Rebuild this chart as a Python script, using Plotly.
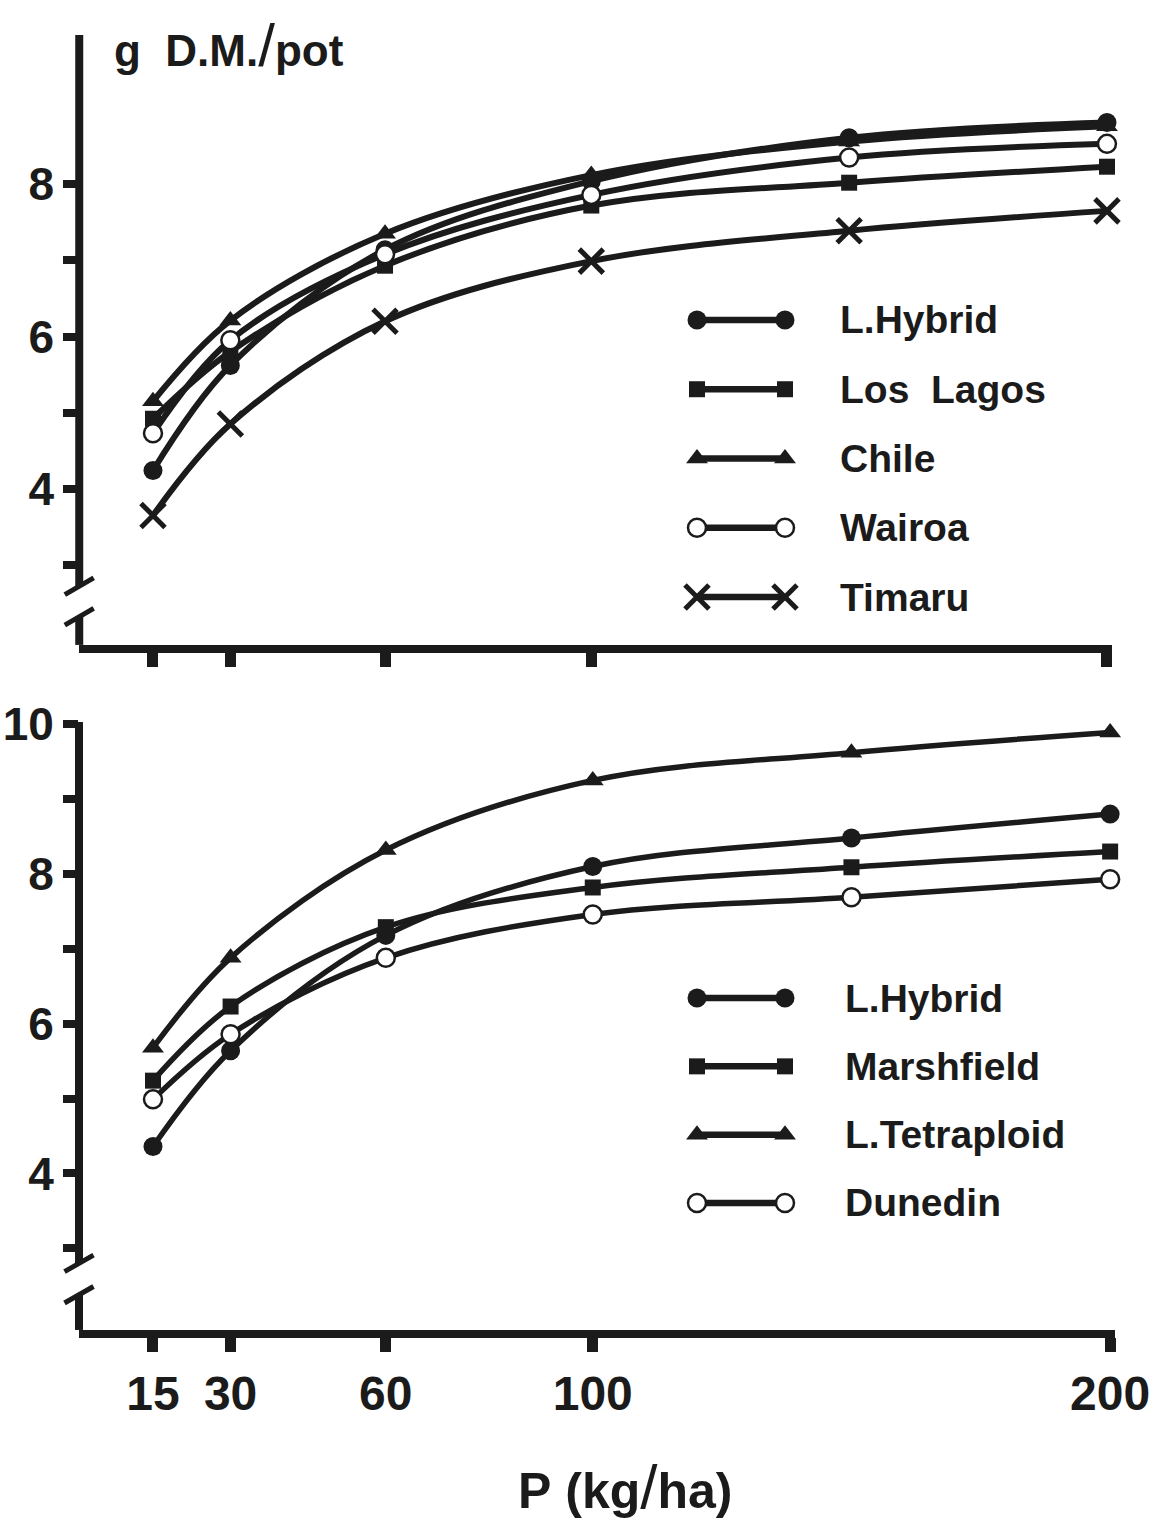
import plotly.graph_objects as go

# ---------------- data ----------------
P = [15, 30, 60, 100, 150, 200]
x_tick_vals = [15, 30, 60, 100, 200]
x_tick_text = ["15", "30", "60", "100", "200"]

top_names = ["L.Hybrid", "Los\u00a0\u00a0Lagos", "Chile", "Wairoa", "Timaru"]
top_l_hybrid = [4.24, 5.62, 7.14, 8.04, 8.61, 8.81]
top_los_lagos = [4.92, 5.80, 6.93, 7.72, 8.02, 8.23]
top_chile = [5.15, 6.21, 7.35, 8.12, 8.56, 8.76]
top_wairoa = [4.73, 5.95, 7.08, 7.86, 8.35, 8.53]
top_timaru = [3.65, 4.85, 6.20, 6.99, 7.39, 7.65]

bot_names = ["L.Hybrid", "Marshfield", "L.Tetraploid", "Dunedin"]
bot_l_hybrid = [4.36, 5.64, 7.18, 8.10, 8.48, 8.80]
bot_marshfield = [5.24, 6.23, 7.29, 7.82, 8.09, 8.30]
bot_l_tetraploid = [5.68, 6.88, 8.32, 9.25, 9.62, 9.89]
bot_dunedin = [4.99, 5.86, 6.88, 7.46, 7.69, 7.93]

top_y_ticks = [3, 4, 5, 6, 7, 8]
top_y_text = ["", "4", "", "6", "", "8"]
bot_y_ticks = [3, 4, 5, 6, 7, 8, 9, 10]
bot_y_text = ["", "4", "", "6", "", "8", "", "10"]

# ---------------- styles ----------------
INK = "#1b1b1b"
SANS = "Liberation Sans, Arial, Helvetica, sans-serif"

MK = {
    "circle": dict(symbol="circle", size=19, color=INK, line=dict(width=0, color=INK)),
    "square": dict(symbol="square", size=16, color=INK, line=dict(width=0, color=INK)),
    "triangle": dict(symbol="triangle-up", size=19, color=INK, line=dict(width=0, color=INK)),
    "open": dict(symbol="circle", size=18, color="white", line=dict(width=2.5, color=INK)),
    "x": dict(symbol="x-thin", size=24, color=INK, line=dict(width=5, color=INK)),
}

top_series = [
    (top_names[1], top_los_lagos, "square"),
    (top_names[0], top_l_hybrid, "circle"),
    (top_names[2], top_chile, "triangle"),
    (top_names[4], top_timaru, "x"),
    (top_names[3], top_wairoa, "open"),
]
bot_series = [
    (bot_names[2], bot_l_tetraploid, "triangle"),
    (bot_names[1], bot_marshfield, "square"),
    (bot_names[0], bot_l_hybrid, "circle"),
    (bot_names[3], bot_dunedin, "open"),
]

fig = go.Figure()

for name, vals, mk in top_series:
    fig.add_trace(go.Scatter(
        x=P, y=vals, name=name, mode="lines+markers", cliponaxis=False,
        line=dict(color=INK, width=6, shape="spline", smoothing=1.0),
        marker=MK[mk], xaxis="x", yaxis="y", showlegend=False,
    ))
for name, vals, mk in bot_series:
    fig.add_trace(go.Scatter(
        x=P, y=vals, name=name, mode="lines+markers", cliponaxis=False,
        line=dict(color=INK, width=5.5, shape="spline", smoothing=1.0),
        marker=MK[mk], xaxis="x2", yaxis="y2", showlegend=False,
    ))

# ---------------- drawn legends (keys with a marker at both ends) ----------------
LEG_FONT = dict(family=SANS, size=39, color=INK, weight="bold")
top_keys = ["circle", "square", "triangle", "open", "x"]
for i, (nm, mk) in enumerate(zip(top_names, top_keys)):
    fig.add_trace(go.Scatter(
        x=[0, 1], y=[i + 1, i + 1], mode="lines+markers", cliponaxis=False,
        line=dict(color=INK, width=6.5), marker=MK[mk],
        xaxis="x3", yaxis="y3", showlegend=False, hoverinfo="skip",
    ))
    fig.add_annotation(x=1.6, y=i + 1, xref="x3", yref="y3", text=nm,
                       showarrow=False, xanchor="left", yanchor="middle",
                       font=LEG_FONT)

bot_keys = ["circle", "square", "triangle", "open"]
for i, (nm, mk) in enumerate(zip(bot_names, bot_keys)):
    fig.add_trace(go.Scatter(
        x=[0, 1], y=[i + 1, i + 1], mode="lines+markers", cliponaxis=False,
        line=dict(color=INK, width=6.5), marker=MK[mk],
        xaxis="x4", yaxis="y4", showlegend=False, hoverinfo="skip",
    ))
    fig.add_annotation(x=1.66, y=i + 1, xref="x4", yref="y4", text=nm,
                       showarrow=False, xanchor="left", yanchor="middle",
                       font=LEG_FONT)

# ---------------- axes ----------------
TOP_RANGE = [1.95, 9.96]
BOT_RANGE = [1.91, 10.03]
X_RANGE = [0.7, 201]

xcommon = dict(range=X_RANGE, showgrid=False, zeroline=False, showline=True,
               linewidth=8, linecolor=INK, ticks="outside", ticklen=14,
               tickwidth=11, tickcolor=INK, tickvals=x_tick_vals,
               fixedrange=True, automargin=False)
ycommon = dict(showgrid=False, zeroline=False, showline=False, ticks="outside",
               ticklen=15, tickwidth=8, tickcolor=INK, fixedrange=True,
               automargin=False,
               tickfont=dict(family=SANS, size=46, color=INK, weight="bold"))
hidden = dict(showgrid=False, zeroline=False, showline=False, ticks="",
              showticklabels=False, fixedrange=True, automargin=False)

# legend key axes: x=0 -> 697 px, x=1 -> 785 px
fig.update_layout(
    width=1174, height=1521,
    margin=dict(l=0, r=0, t=0, b=0, pad=0, autoexpand=False),
    paper_bgcolor="white", plot_bgcolor="white",
    showlegend=False,
    xaxis=dict(**xcommon, domain=[0.0675, 0.9473], anchor="y",
               showticklabels=False),
    yaxis=dict(**ycommon, domain=[0.576, 0.977], range=TOP_RANGE,
               tickvals=top_y_ticks, ticktext=top_y_text, anchor="x"),
    xaxis2=dict(**xcommon, domain=[0.0673, 0.9500], anchor="y2",
                ticktext=x_tick_text,
                tickfont=dict(family=SANS, size=48, color=INK, weight="bold")),
    yaxis2=dict(**ycommon, domain=[0.1256, 0.5253], range=BOT_RANGE,
                tickvals=bot_y_ticks, ticktext=bot_y_text, anchor="x2"),
    xaxis3=dict(**hidden, domain=[0.5937, 0.8935], range=[0, 4], anchor="y3"),
    yaxis3=dict(**hidden, domain=[0.5938, 0.8033], range=[5.3, 0.7], anchor="x3"),
    xaxis4=dict(**hidden, domain=[0.5937, 0.8935], range=[0, 4], anchor="y4"),
    yaxis4=dict(**hidden, domain=[0.1956, 0.3573], range=[4.3, 0.7], anchor="x4"),
)

# ---------------- y-axis lines with break marks ----------------
def axis_with_break(xr, yr, rng, upper, lower):
    shapes = []
    line = dict(color=INK, width=8)
    shapes.append(dict(type="line", xref=xr, yref=yr, x0=0, x1=0,
                       y0=upper, y1=rng[1], line=line))
    shapes.append(dict(type="line", xref=xr, yref=yr, x0=0, x1=0,
                       y0=rng[0], y1=lower, line=line))
    for yb in (upper, lower):
        shapes.append(dict(type="line", xref=xr, yref=yr,
                           x0=-0.014, x1=0.014, y0=yb - 0.11, y1=yb + 0.11,
                           line=dict(color=INK, width=5)))
    return shapes

shapes = axis_with_break("x domain", "y", TOP_RANGE, 2.72, 2.32)
shapes += axis_with_break("x2 domain", "y2", BOT_RANGE, 2.80, 2.38)
fig.update_layout(shapes=shapes)

# ---------------- titles ----------------
fig.add_annotation(
    x=112 / 1174, y=1 - 46 / 1521, xref="paper", yref="paper",
    text='g\u00a0\u00a0D.M.<span style="font-size:60px;font-weight:normal">/</span>pot',
    showarrow=False, xanchor="left", yanchor="middle",
    font=dict(family=SANS, size=44, color=INK, weight="bold"),
)
fig.add_annotation(
    x=625 / 1174, y=1 - 1486 / 1521, xref="paper", yref="paper",
    text='P\u00a0(kg<span style="font-size:62px;font-weight:normal">/</span>ha)',
    showarrow=False, xanchor="center", yanchor="middle",
    font=dict(family=SANS, size=50, color=INK, weight="bold"),
)

fig.write_html("out.html")
